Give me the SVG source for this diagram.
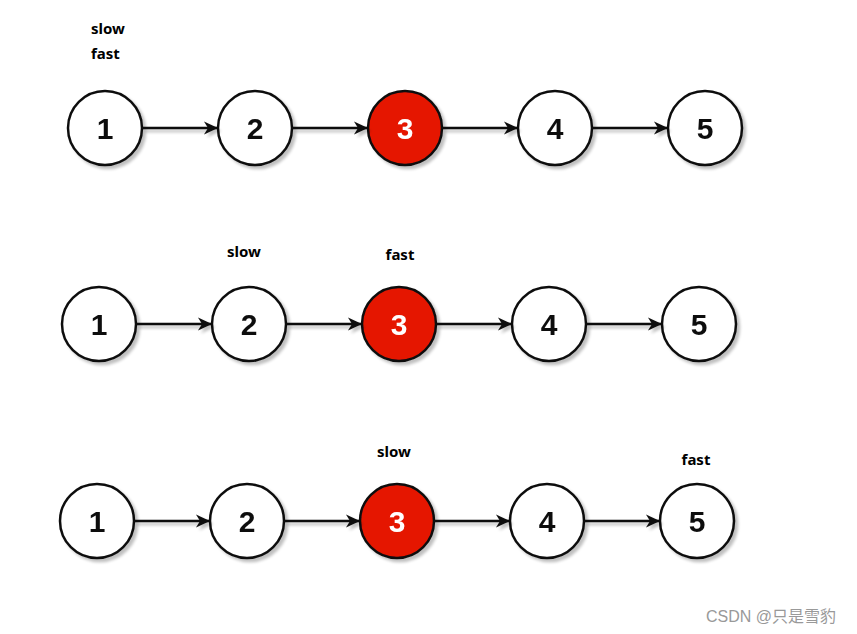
<svg xmlns="http://www.w3.org/2000/svg" width="857" height="634" viewBox="0 0 857 634">
<defs>
<filter id="sh" x="-20%" y="-20%" width="150%" height="150%">
<feGaussianBlur in="SourceAlpha" stdDeviation="1.5"/>
<feOffset dx="3" dy="3" result="b"/>
<feComponentTransfer><feFuncA type="linear" slope="0.25"/></feComponentTransfer>
<feMerge><feMergeNode/><feMergeNode in="SourceGraphic"/></feMerge>
</filter>
<marker id="ah" markerWidth="14" markerHeight="14" refX="13" refY="7" orient="auto" markerUnits="userSpaceOnUse">
<path d="M0,0.5 L14,7 L0,13.5 L4,7 Z" fill="#111"/>
</marker>
</defs>
<style>
.n circle{fill:#fff;stroke:#111;stroke-width:2.5}
.r circle{fill:#e51400;stroke:#111;stroke-width:2.5}
.n text{font-family:"Liberation Sans",Arial,sans-serif;font-weight:bold;font-size:30px;fill:#111;text-anchor:middle}
.r text{font-family:"Liberation Sans",Arial,sans-serif;font-weight:bold;font-size:30px;fill:#fff;text-anchor:middle}
.lbl{font-family:"Noto Sans","DejaVu Sans",sans-serif;font-weight:bold;font-size:15px;fill:#000}
.e{stroke:#111;stroke-width:2.5;fill:none;marker-end:url(#ah)}
.wm{font-family:"Liberation Sans","Noto Sans CJK SC",sans-serif;font-size:16px;fill:#999}
</style>
<rect width="857" height="634" fill="#fff"/>
<!-- labels -->
<text class="lbl" x="91" y="34">slow</text>
<text class="lbl" x="91" y="59">fast</text>
<text class="lbl" x="244" y="257" text-anchor="middle">slow</text>
<text class="lbl" x="400" y="260" text-anchor="middle">fast</text>
<text class="lbl" x="394" y="457" text-anchor="middle">slow</text>
<text class="lbl" x="696" y="465" text-anchor="middle">fast</text>
<!-- row 1 -->
<g id="r1n1" class="n" filter="url(#sh)"><circle cx="105" cy="128" r="37"/><text x="105" y="139">1</text></g>
<g id="r1n2" class="n" filter="url(#sh)"><circle cx="255" cy="128" r="37"/><text x="255" y="139">2</text></g>
<g id="r1n3" class="r" filter="url(#sh)"><circle cx="405" cy="128" r="37"/><text x="405" y="139">3</text></g>
<g id="r1n4" class="n" filter="url(#sh)"><circle cx="555" cy="128" r="37"/><text x="555" y="139">4</text></g>
<g id="r1n5" class="n" filter="url(#sh)"><circle cx="705" cy="128" r="37"/><text x="705" y="139">5</text></g>
<!-- row 2 -->
<g id="r2n1" class="n" filter="url(#sh)"><circle cx="99" cy="324" r="37"/><text x="99" y="335">1</text></g>
<g id="r2n2" class="n" filter="url(#sh)"><circle cx="249" cy="324" r="37"/><text x="249" y="335">2</text></g>
<g id="r2n3" class="r" filter="url(#sh)"><circle cx="399" cy="324" r="37"/><text x="399" y="335">3</text></g>
<g id="r2n4" class="n" filter="url(#sh)"><circle cx="549" cy="324" r="37"/><text x="549" y="335">4</text></g>
<g id="r2n5" class="n" filter="url(#sh)"><circle cx="699" cy="324" r="37"/><text x="699" y="335">5</text></g>
<!-- row 3 -->
<g id="r3n1" class="n" filter="url(#sh)"><circle cx="97" cy="521" r="37"/><text x="97" y="532">1</text></g>
<g id="r3n2" class="n" filter="url(#sh)"><circle cx="247" cy="521" r="37"/><text x="247" y="532">2</text></g>
<g id="r3n3" class="r" filter="url(#sh)"><circle cx="397" cy="521" r="37"/><text x="397" y="532">3</text></g>
<g id="r3n4" class="n" filter="url(#sh)"><circle cx="547" cy="521" r="37"/><text x="547" y="532">4</text></g>
<g id="r3n5" class="n" filter="url(#sh)"><circle cx="697" cy="521" r="37"/><text x="697" y="532">5</text></g>
<g id="edges" filter="url(#sh)">
<line class="e" x1="142" y1="128" x2="217" y2="128"/>
<line class="e" x1="292" y1="128" x2="367" y2="128"/>
<line class="e" x1="442" y1="128" x2="517" y2="128"/>
<line class="e" x1="592" y1="128" x2="667" y2="128"/>
<line class="e" x1="136" y1="324" x2="211" y2="324"/>
<line class="e" x1="286" y1="324" x2="361" y2="324"/>
<line class="e" x1="436" y1="324" x2="511" y2="324"/>
<line class="e" x1="586" y1="324" x2="661" y2="324"/>
<line class="e" x1="134" y1="521" x2="209" y2="521"/>
<line class="e" x1="284" y1="521" x2="359" y2="521"/>
<line class="e" x1="434" y1="521" x2="509" y2="521"/>
<line class="e" x1="584" y1="521" x2="659" y2="521"/>
</g>
<text class="wm" x="706" y="622">CSDN @只是雪豹</text>
</svg>
